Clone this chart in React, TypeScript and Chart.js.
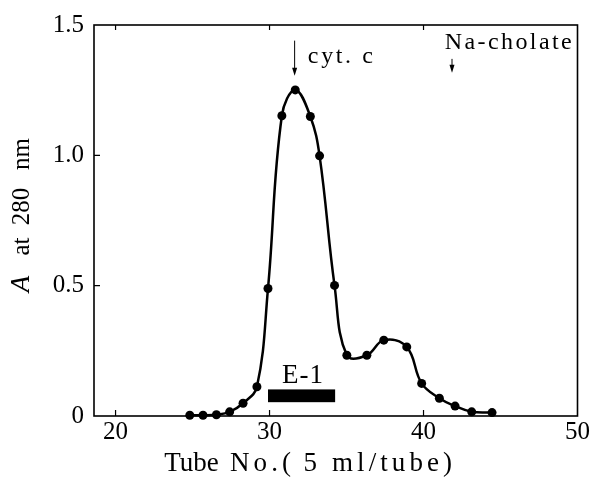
import React, { useEffect, useRef } from "react";
import { Chart, registerables } from "chart.js";
Chart.register(...registerables);

// ---- data ----
const tubeNo = [24.82, 25.68, 26.55, 27.41, 28.28, 29.18, 29.9, 30.8, 31.67, 32.65, 33.25, 34.22, 35.02, 36.32, 37.42, 38.91, 39.88, 41.03, 42.05, 43.13, 44.45];
const absorbance = [0.003, 0.003, 0.005, 0.016, 0.049, 0.112, 0.489, 1.152, 1.251, 1.149, 0.998, 0.501, 0.233, 0.233, 0.291, 0.265, 0.125, 0.068, 0.038, 0.016, 0.013];
const xTicks = [20, 30, 40, 50];
const yTicks = [0, 0.5, 1.0, 1.5];
const xTitleWords = ["Tube", "No.", "(5", "ml/tube)"];
const yTitleWords = ["A", "at", "280", "nm"];
const markerLabels = ["cyt. c", "Na-cholate"];
const markerTubes = [31.63, 41.85];
const fractionLabel = "E-1";
const fractionTubes = [29.9, 34.26];

const FONT = "'Liberation Serif', 'Times New Roman', serif";

function fitText(ctx: CanvasRenderingContext2D, text: string, cx: number, y: number, w: number) {
  const anyCtx = ctx as any;
  anyCtx.letterSpacing = "0px";
  const m = ctx.measureText(text).width;
  let ls = 0;
  if (text.length > 1 && w > m) ls = (w - m) / (text.length - 1);
  anyCtx.letterSpacing = ls + "px";
  ctx.textAlign = "left";
  const tw = Math.max(w, m);
  ctx.fillText(text, cx - tw / 2, y);
  anyCtx.letterSpacing = "0px";
}

const decorPlugin = {
  id: "decor",
  afterDraw(chart: any) {
    const ctx: CanvasRenderingContext2D = chart.ctx;
    const { left, right, top, bottom } = chart.chartArea;
    const xs = chart.scales.x;
    const ys = chart.scales.y;
    ctx.save();
    ctx.strokeStyle = "#000";
    ctx.fillStyle = "#000";
    // frame
    ctx.lineWidth = 1.6;
    ctx.strokeRect(left, top, right - left, bottom - top);
    // inward ticks
    ctx.lineWidth = 1.2;
    ctx.beginPath();
    xTicks.forEach((v) => {
      const px = xs.getPixelForValue(v);
      if (px < right - 2) {
        ctx.moveTo(px, bottom);
        ctx.lineTo(px, bottom - 6);
        ctx.moveTo(px, top);
        ctx.lineTo(px, top + 5);
      }
    });
    yTicks.forEach((v) => {
      const py = ys.getPixelForValue(v);
      if (py > top + 2 && py < bottom - 2) {
        ctx.moveTo(left, py);
        ctx.lineTo(left + 6, py);
      }
    });
    ctx.stroke();

    // arrows with labels
    const drawArrow = (x: number, y1: number, y2: number) => {
      ctx.lineWidth = 1;
      ctx.beginPath();
      ctx.moveTo(x, y1);
      ctx.lineTo(x, y2 - 6);
      ctx.stroke();
      ctx.beginPath();
      ctx.moveTo(x - 2.5, y2 - 8);
      ctx.lineTo(x + 2.5, y2 - 8);
      ctx.lineTo(x, y2);
      ctx.closePath();
      ctx.fill();
    };
    const a1 = xs.getPixelForValue(markerTubes[0]);
    drawArrow(a1, ys.getPixelForValue(1.44), ys.getPixelForValue(1.305));
    const a2 = xs.getPixelForValue(markerTubes[1]);
    drawArrow(a2, ys.getPixelForValue(1.37), ys.getPixelForValue(1.317));

    ctx.textBaseline = "alphabetic";
    ctx.font = `24px ${FONT}`;
    fitText(ctx, markerLabels[0], xs.getPixelForValue(34.6), ys.getPixelForValue(1.356), 65);
    fitText(ctx, markerLabels[1], xs.getPixelForValue(45.5), ys.getPixelForValue(1.408), 127);

    // fraction bar
    const bx1 = xs.getPixelForValue(fractionTubes[0]);
    const bx2 = xs.getPixelForValue(fractionTubes[1]);
    const by1 = ys.getPixelForValue(0.102);
    const by2 = ys.getPixelForValue(0.053);
    ctx.fillRect(bx1, by1, bx2 - bx1, by2 - by1);
    ctx.font = `27px ${FONT}`;
    fitText(ctx, fractionLabel, (bx1 + bx2) / 2 + 1, ys.getPixelForValue(0.125), 41);

    // x title
    ctx.font = `27px ${FONT}`;
    const xc = [191.5, 254, 299.5, 392];
    const xw = [53, 48, 35, 120];
    xTitleWords.forEach((w, i) => fitText(ctx, w, xc[i], 471, xw[i]));

    // y title (rotated)
    ctx.save();
    ctx.translate(22, 0);
    ctx.rotate(-Math.PI / 2);
    ctx.textBaseline = "middle";
    ctx.textAlign = "center";
    const yc = [284, 246.5, 206.5, 154];
    yTitleWords.forEach((w, i) => {
      ctx.font = i === 0 ? `italic 27px ${FONT}` : `25px ${FONT}`;
      ctx.fillText(w, -yc[i], 0);
    });
    ctx.restore();

    ctx.restore();
  },
};

export default function App() {
  const ref = useRef<HTMLCanvasElement | null>(null);
  useEffect(() => {
    if (!ref.current) return;
    const chart = new Chart(ref.current, {
      type: "line",
      data: {
        datasets: [
          {
            data: tubeNo.map((x, i) => ({ x, y: absorbance[i] })),
            borderColor: "#000",
            backgroundColor: "#000",
            borderWidth: 2.5,
            pointRadius: 4.5,
            pointBackgroundColor: "#000",
            pointBorderWidth: 0,
            tension: 0.4,
            clip: false as any,
          },
        ],
      },
      options: {
        responsive: false,
        animation: false,
        layout: { padding: { top: 24, right: 13, left: 0, bottom: 0 } },
        plugins: { legend: { display: false }, tooltip: { enabled: false } },
        scales: {
          x: {
            type: "linear",
            min: 18.6,
            max: 50,
            grid: { display: false, drawTicks: false },
            border: { display: false },
            afterBuildTicks: (s: any) => {
              s.ticks = xTicks.map((v) => ({ value: v }));
            },
            afterFit: (s: any) => {
              s.height = 61;
            },
            ticks: {
              color: "#000",
              padding: 1,
              maxRotation: 0,
              font: { family: FONT, size: 25 },
              callback: (v: any) => String(v),
            },
          },
          y: {
            type: "linear",
            min: 0,
            max: 1.5,
            grid: { display: false, drawTicks: false },
            border: { display: false },
            afterBuildTicks: (s: any) => {
              s.ticks = yTicks.map((v) => ({ value: v }));
            },
            afterFit: (s: any) => {
              s.width = 94;
            },
            ticks: {
              color: "#000",
              padding: 10,
              font: { family: FONT, size: 25 },
              callback: (v: any) => (Number(v) === 0 ? "0" : Number(v).toFixed(1)),
            },
          },
        },
      },
      plugins: [decorPlugin],
    });
    return () => chart.destroy();
  }, []);
  return (
    <div style={{ position: "absolute", left: 0, top: 0, width: 591, height: 477, background: "#fff" }}>
      <canvas ref={ref} width={591} height={477} style={{ display: "block" }} />
    </div>
  );
}
